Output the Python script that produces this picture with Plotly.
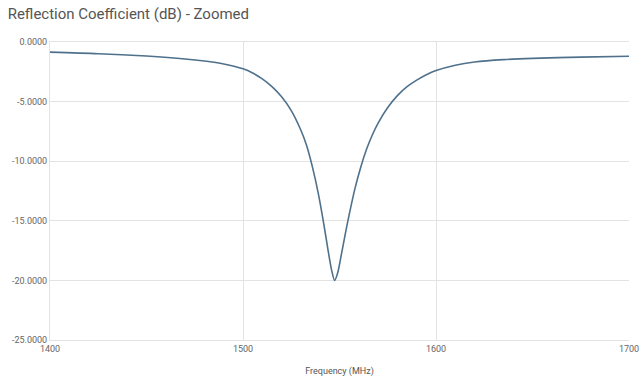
import plotly.graph_objects as go

freq_mhz = [1400, 1425, 1450, 1470, 1480, 1490, 1500, 1505, 1510, 1515, 1520, 1525,
            1530, 1533, 1536, 1539, 1542, 1544, 1546, 1547.5, 1549, 1551, 1553, 1555,
            1558, 1561, 1564, 1567, 1570, 1575, 1580, 1585, 1590, 1595, 1600, 1610,
            1620, 1635, 1650, 1675, 1700]
refl_db = [-0.85, -0.98, -1.18, -1.42, -1.6, -1.85, -2.25, -2.6, -3.1, -3.75, -4.6, -5.75,
           -7.4, -8.7, -10.5, -12.7, -15.4, -17.4, -19.2, -20.0, -19.4, -17.8, -16.1, -14.5,
           -12.3, -10.5, -9.0, -7.8, -6.8, -5.5, -4.5, -3.75, -3.2, -2.75, -2.4, -1.95,
           -1.68, -1.48, -1.37, -1.27, -1.2]
y_ticks = [0, -5, -10, -15, -20, -25]
x_ticks = [1400, 1500, 1600, 1700]

fig = go.Figure()
fig.add_trace(go.Scatter(x=freq_mhz, y=refl_db, mode="lines",
                         line=dict(color="#4f718c", width=1.6, shape="spline", smoothing=0.8),
                         hoverinfo="skip", showlegend=False))

fig.update_layout(
    width=640, height=385,
    margin=dict(l=50, r=11, t=42, b=45),
    paper_bgcolor="white", plot_bgcolor="white",
    font=dict(family="Roboto, Arial, sans-serif", color="#666"),
    title=dict(text="Reflection Coefficient (dB) - Zoomed", x=0.012, xanchor="left",
               y=0.965, yanchor="middle", font=dict(size=15, color="#555")),
    xaxis=dict(range=[1400, 1700], tickvals=x_ticks, ticktext=[str(v) for v in x_ticks],
               showgrid=True, gridcolor="#e3e3e3", gridwidth=1, zeroline=False,
               showline=True, linecolor="#e3e3e3", mirror=True, automargin=False,
               tickfont=dict(size=9, color="#666"), ticks="", ticklen=0,
               title=dict(text="Frequency (MHz)", font=dict(size=9, color="#555"), standoff=14)),
    yaxis=dict(range=[-25, 0], tickvals=y_ticks, ticktext=[f"{v:.4f}" for v in y_ticks],
               showgrid=True, gridcolor="#e3e3e3", gridwidth=1, automargin=False,
               zeroline=True, zerolinecolor="#8a8a8a", zerolinewidth=2,
               showline=True, linecolor="#e3e3e3",
               tickfont=dict(size=9, color="#666"), ticks="", ticklen=0),
)

fig.write_html("out.html")
